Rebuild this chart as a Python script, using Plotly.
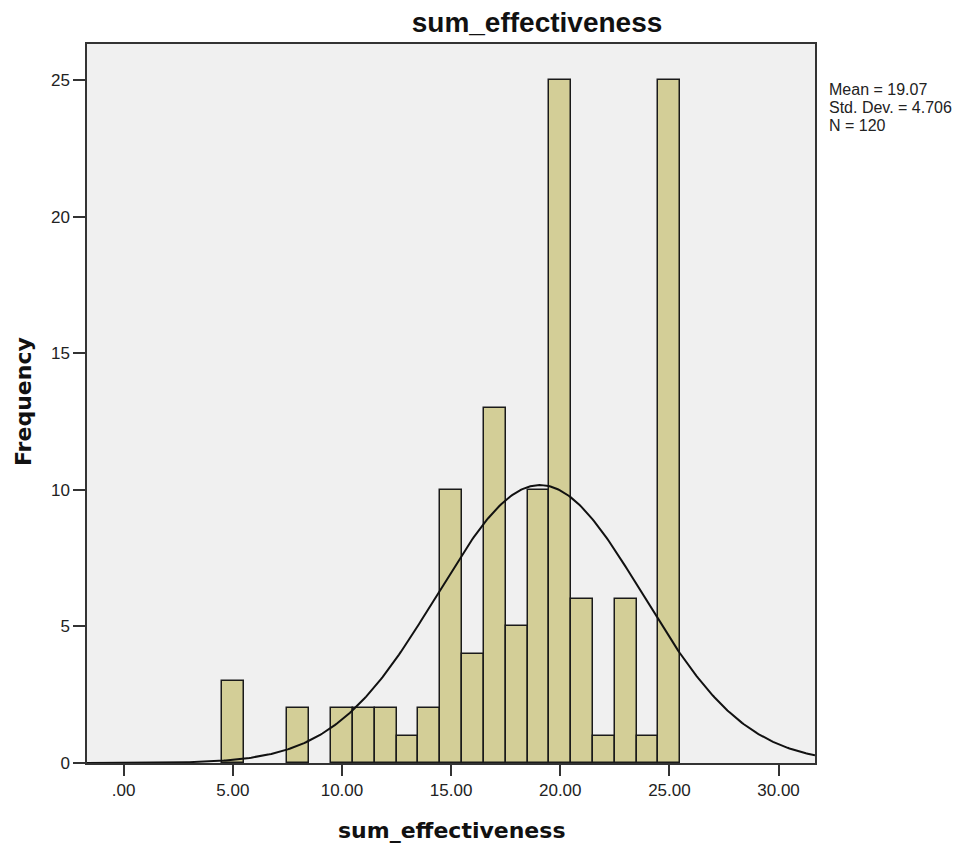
import numpy as np
import plotly.graph_objects as go

# Histogram data (bin centers and frequencies), bin width 1
bin_centers = [5, 6, 7, 8, 9, 10, 11, 12, 13, 14, 15, 16, 17, 18, 19, 20, 21, 22, 23, 24, 25]
frequencies = [3, 0, 0, 2, 0, 2, 2, 2, 1, 2, 10, 4, 13, 5, 10, 25, 6, 1, 6, 1, 25]
bin_width = 1.0

mean_val = 19.07
std_val = 4.706
n_val = 120

x_tick_vals = [0, 5, 10, 15, 20, 25, 30]
x_tick_text = [".00", "5.00", "10.00", "15.00", "20.00", "25.00", "30.00"]
y_tick_vals = [0, 5, 10, 15, 20, 25]
y_tick_text = ["0", "5", "10", "15", "20", "25"]

stats_lines = [f"Mean = {mean_val:.2f}", f"Std. Dev. = {std_val:.3f}", f"N = {n_val}"]

x_range = [-1.68, 31.67]
y_range = [0, 26.32]

# Fitted normal curve (from the stated mean, sd and N)
xs = np.linspace(x_range[0], x_range[1], 400)
ys = n_val * bin_width / (std_val * np.sqrt(2 * np.pi)) * np.exp(-0.5 * ((xs - mean_val) / std_val) ** 2)

bx = [c for c, f in zip(bin_centers, frequencies) if f > 0]
by = [f for f in frequencies if f > 0]

# The page body has an 8px margin, so the figure is laid out 8px smaller
OFF = 8
W, H = 977 - OFF, 845 - OFF
L, T = 87 - OFF, 44 - OFF
R = W - (815 - OFF)
B = H - (763 - OFF)
PW, PH = W - L - R, H - T - B


def px_x(sx):
    return (sx - OFF - L) / PW


def px_y(sy):
    return (H - B - (sy - OFF)) / PH


fig = go.Figure()
fig.add_trace(go.Bar(
    x=bx, y=by, width=bin_width,
    marker=dict(color="#D3CE97", line=dict(color="#1a1a1a", width=1.5)),
    hoverinfo="x+y", showlegend=False,
))
fig.add_trace(go.Scatter(
    x=xs, y=ys, mode="lines",
    line=dict(color="#111111", width=2),
    hoverinfo="skip", showlegend=False,
))

tick_font = dict(family="Liberation Sans, Arial", size=17, color="#222222")

fig.update_layout(
    width=W, height=H,
    margin=dict(l=L, r=R, t=T, b=B, autoexpand=False),
    paper_bgcolor="white",
    plot_bgcolor="#F0F0F0",
    bargap=0,
    title=dict(
        text="<b>sum_effectiveness</b>",
        font=dict(family="Liberation Sans, Arial", size=28, color="#111111"),
        xref="container", x=(537 - OFF) / W, xanchor="center",
        yref="container", y=1 - (22 - OFF) / H, yanchor="middle",
        automargin=False,
    ),
    xaxis=dict(
        range=x_range, tickvals=x_tick_vals, ticktext=x_tick_text,
        tickfont=tick_font, ticks="outside", ticklen=11, tickwidth=1.5, tickcolor="#333333",
        showline=True, linecolor="#333333", linewidth=1.5, mirror=True,
        showgrid=False, zeroline=False, automargin=False,
    ),
    yaxis=dict(
        range=y_range, tickvals=y_tick_vals, ticktext=y_tick_text,
        tickfont=tick_font, ticks="outside", ticklen=12, tickwidth=1.5, tickcolor="#333333",
        showline=True, linecolor="#333333", linewidth=1.5, mirror=True,
        showgrid=False, zeroline=False, automargin=False,
    ),
)

# Axis titles
fig.add_annotation(
    text="<b>sum_effectiveness</b>", showarrow=False,
    xref="paper", yref="paper", x=px_x(451), y=px_y(830),
    xanchor="center", yanchor="middle",
    font=dict(family="DejaVu Sans", size=22, color="#111111"),
)
fig.add_annotation(
    text="<b>Frequency</b>", showarrow=False, textangle=-90,
    xref="paper", yref="paper", x=px_x(23), y=px_y(402),
    xanchor="center", yanchor="middle",
    font=dict(family="DejaVu Sans", size=22, color="#111111"),
)

# Stats box text on the right
line_y_px = [89, 107, 125]
for txt, ypx in zip(stats_lines, line_y_px):
    fig.add_annotation(
        text=txt, showarrow=False,
        xref="paper", yref="paper",
        x=px_x(827), y=px_y(ypx),
        xanchor="left", yanchor="middle",
        font=dict(family="Liberation Sans, Arial", size=16, color="#222222"),
    )

fig.write_html("out.html")
